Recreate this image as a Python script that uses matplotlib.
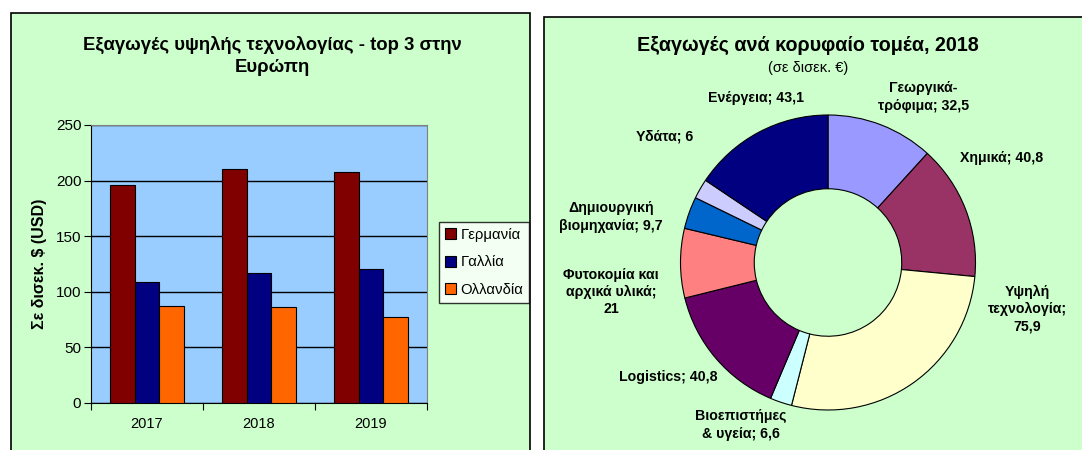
import numpy as np
import matplotlib.pyplot as plt
from matplotlib.patches import Rectangle

plt.rcParams['font.family'] = ['Liberation Sans', 'DejaVu Sans']

# --- data: left chart ---
years = ["2017", "2018", "2019"]
countries = ["Γερμανία", "Γαλλία", "Ολλανδία"]
germany = [196, 210, 208]
france = [108.5, 117, 120.5]
netherlands = [87, 86, 77.5]
bar_colors = ["#800000", "#000080", "#FF6600"]

# --- data: right chart ---
sectors = ["Γεωργικά-\nτρόφιμα; 32,5", "Χημικά; 40,8", "Υψηλή\nτεχνολογία;\n75,9",
           "Βιοεπιστήμες\n& υγεία; 6,6", "Logistics; 40,8", "Φυτοκομία και\nαρχικά υλικά;\n21",
           "Δημιουργική\nβιομηχανία; 9,7", "Υδάτα; 6", "Ενέργεια; 43,1"]
sector_values = [32.5, 40.8, 75.9, 6.6, 40.8, 21, 9.7, 6, 43.1]
sector_colors = ["#9999FF", "#993366", "#FFFFCC", "#CCFFFF", "#660066",
                 "#FF8080", "#0066CC", "#CCCCFF", "#000080"]
# label anchors, in units of the outer radius
label_pos = [(0.649, 1.122), (1.176, 0.708), (1.352, -0.315), (-0.593, -1.102), (-1.081, -0.776),
             (-1.472, -0.20), (-1.472, 0.308), (-1.108, 0.851), (-0.488, 1.115)]

W, H = 1082, 450
fig = plt.figure(figsize=(W / 100, H / 100), dpi=100)
fig.patch.set_facecolor("white")

# panel backgrounds
for x0, y0, x1 in [(11, 13, 530), (544, 17, 1090)]:
    fig.patches.append(Rectangle((x0 / W, -0.01), (x1 - x0) / W, 1.01 - y0 / H,
                                 transform=fig.transFigure, facecolor="#CCFFCC",
                                 edgecolor="black", lw=1.2, zorder=-5))

# --- bar chart ---
ax = fig.add_axes([91 / W, 1 - 403 / H, 336 / W, 278 / H])
ax.set_facecolor("#99CCFF")
x = np.arange(len(years))
bw = 1 / 4.5
for i, (vals, c, name) in enumerate(zip([germany, france, netherlands], bar_colors, countries)):
    ax.bar(x + (i - 1) * bw, vals, bw, color=c, edgecolor="black", lw=0.8, label=name, zorder=3)
ax.set_xlim(-0.5, 2.5)
ax.set_ylim(0, 250)
ax.set_yticks(range(0, 251, 50))
ax.yaxis.grid(True, color="black", lw=1, zorder=1)
ax.set_xticks([-0.5, 0.5, 1.5, 2.5])
ax.set_xticklabels([])
ax.set_xticks(x, minor=True)
ax.set_xticklabels(years, minor=True)
ax.tick_params(axis="x", which="minor", length=0, pad=10, labelsize=10.5)
ax.tick_params(axis="x", which="major", length=5, direction="out")
ax.tick_params(axis="y", length=5, labelsize=11, pad=2)
for s in ["top", "right"]:
    ax.spines[s].set_color("#808080")
ax.set_ylabel("Σε δισεκ. $ (USD)", fontsize=11.5, fontweight="bold", labelpad=6)
fig.text(272 / W, 1 - 56 / H, "Εξαγωγές υψηλής τεχνολογίας - top 3 στην\nΕυρώπη",
         ha="center", va="center", fontsize=13.3, fontweight="bold", linespacing=1.45)
leg = ax.legend(loc="upper left", bbox_to_anchor=(439 / W, 1 - 222 / H), bbox_transform=fig.transFigure,
                fontsize=10.7, frameon=True, fancybox=False, edgecolor="black",
                handlelength=0.75, handleheight=0.75, handletextpad=0.3, borderpad=0.4,
                labelspacing=0.9, borderaxespad=0)
leg.get_frame().set_facecolor("white")
leg.get_frame().set_linewidth(1)

# --- donut chart ---
r = 147.5
cx, cy = 828, 262.5
pax = fig.add_axes([(cx - r) / W, 1 - (cy + r) / H, 2 * r / W, 2 * r / H])
pax.pie(sector_values, colors=sector_colors, startangle=90, counterclock=False,
        wedgeprops=dict(width=0.5, edgecolor="black", linewidth=0.8))
pax.set_xlim(-1, 1)
pax.set_ylim(-1, 1)
pax.set_aspect("equal")
pax.axis("off")
for lab, (lx, ly) in zip(sectors, label_pos):
    pax.text(lx, ly, lab, ha="center", va="center", fontsize=10.2, fontweight="bold",
             linespacing=1.3, clip_on=False)
fig.text(808 / W, 1 - 45 / H, "Εξαγωγές ανά κορυφαίο τομέα, 2018", ha="center", va="center",
         fontsize=14.2, fontweight="bold")
fig.text(808 / W, 1 - 68 / H, "(σε δισεκ. €)", ha="center", va="center", fontsize=10.5)

fig.savefig("out.png", dpi=100)
